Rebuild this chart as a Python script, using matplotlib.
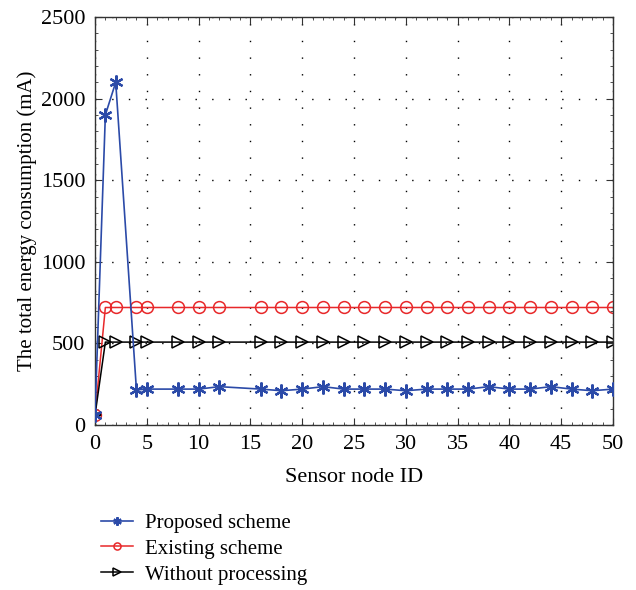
import matplotlib
matplotlib.use("Agg")
import matplotlib.pyplot as plt
from matplotlib.ticker import MultipleLocator

plt.rcParams['font.family'] = ['Liberation Serif', 'DejaVu Serif']

node_ids = [0, 1, 2, 4, 5, 8, 10, 12, 16, 18, 20, 22, 24, 26, 28, 30, 32,
            34, 36, 38, 40, 42, 44, 46, 48, 50]
proposed = [60, 1900, 2100, 215, 220, 220, 220, 235, 220, 210, 220, 235, 220,
            220, 220, 210, 220, 220, 220, 235, 220, 220, 235, 220, 210, 220]
existing = [60] + [720] * 25
without = [60] + [508] * 25

fig = plt.figure(figsize=(6.36, 5.90), dpi=100)
ax = fig.add_axes([95 / 636, 1 - 425 / 590, 518 / 636, 408 / 590])

ax.plot(node_ids, proposed, color='#2b4aa8', marker=(6, 2, 0), markersize=10,
        markeredgewidth=1.6, linewidth=1.2, label='Proposed scheme', zorder=3)
ax.plot(node_ids, existing, color='#e8282a', marker='o', markersize=8.5,
        markerfacecolor='none', markeredgewidth=1.1, linewidth=1.1,
        label='Existing scheme', zorder=2)
ax.plot(node_ids, without, color='black', marker='>', markersize=8.5,
        markerfacecolor='none', markeredgewidth=1.1, linewidth=1.1,
        label='Without processing', zorder=2)

ax.set_xlim(0, 50)
ax.set_ylim(0, 2500)
ax.xaxis.set_major_locator(MultipleLocator(5))
ax.xaxis.set_minor_locator(MultipleLocator(1))
ax.yaxis.set_major_locator(MultipleLocator(500))
ax.yaxis.set_minor_locator(MultipleLocator(100))
ax.tick_params(which='both', direction='in', top=True, right=True,
               labelsize=16, colors='#333333', labelcolor='black', pad=7)
ax.tick_params(which='major', length=5)
ax.tick_params(which='minor', length=2.5)
ax.grid(True, which='major', color='black', linestyle=(0, (1, 11)), linewidth=1.0)
for s in ax.spines.values():
    s.set_color('#333333')
    s.set_linewidth(1.0)

ax.set_xlabel('Sensor node ID', fontsize=16, labelpad=10)
ax.set_ylabel('The total energy consumption (mA)', fontsize=15, labelpad=3)

fig.legend(loc='upper left', bbox_to_anchor=(93 / 636, 1 - 505 / 590),
           frameon=False, fontsize=15, handlelength=1.5, handletextpad=0.6,
           labelspacing=0.3, markerscale=0.6, borderaxespad=0)

fig.savefig('out.png', dpi=100)
